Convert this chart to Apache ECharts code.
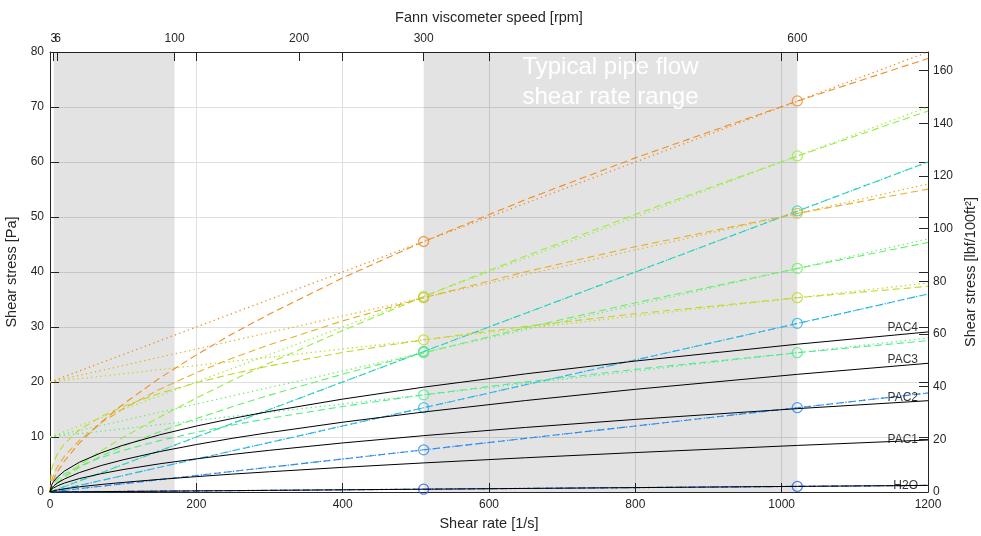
<!DOCTYPE html>
<html><head><meta charset="utf-8">
<script src="https://cdn.jsdelivr.net/npm/echarts@6/dist/echarts.min.js"></script>
<style>html,body{margin:0;padding:0;background:#fff}#c{width:981px;height:536px}</style>
</head><body><div id="c"></div>
<script>
// ---- data ----
const rates = [0, 2, 5, 10, 20, 40, 70, 100, 150, 200, 250, 300, 400, 511, 650, 800, 1022, 1200];

// Fann readings (Pa) at 300 and 600 rpm for the ten model fluids
const fluidNames = ['water', 'B0-15', 'B0-30', 'B0-50', 'B10-15', 'B10-30', 'B10-50', 'B20-15', 'B20-30', 'B20-50'];
const theta300 = [0.51, 7.67, 15.33, 25.55, 17.67, 25.33, 35.55, 27.67, 35.33, 45.55];
const theta600 = [1.02, 15.33, 30.66, 51.1, 25.33, 40.66, 61.1, 35.33, 50.66, 71.1];

// Bingham lines: stress at 0 and at 1200 1/s
const binghamAt0 = [0, 0, 0, 0, 10, 10, 10, 20, 20, 20];
const binghamAt1200 = [1.2, 18, 36, 60, 28, 46, 70, 38, 56, 80];

// Power-law curves (Pa) sampled at `rates`
const plWater  = [0, 0.002, 0.005, 0.01, 0.02, 0.04, 0.07, 0.1, 0.15, 0.2, 0.25, 0.3, 0.4, 0.51, 0.65, 0.8, 1.02, 1.2];
const plB0_15  = [0, 0.03, 0.08, 0.15, 0.3, 0.6, 1.05, 1.5, 2.25, 3, 3.75, 4.5, 6, 7.67, 9.75, 12, 15.33, 18];
const plB0_30  = [0, 0.06, 0.15, 0.3, 0.6, 1.2, 2.1, 3, 4.5, 6, 7.5, 9, 12, 15.33, 19.5, 24, 30.66, 36];
const plB0_50  = [0, 0.1, 0.25, 0.5, 1, 2, 3.5, 5, 7.5, 10, 12.5, 15, 20, 25.55, 32.5, 40, 51.1, 60];
const plB10_15 = [0, 0.99, 1.59, 2.29, 3.28, 4.70, 6.28, 7.57, 9.34, 10.85, 12.19, 13.39, 15.55, 17.67, 20.02, 22.30, 25.33, 27.53];
const plB10_30 = [0, 0.58, 1.08, 1.73, 2.77, 4.45, 6.52, 8.32, 10.97, 13.35, 15.55, 17.61, 21.43, 25.33, 29.85, 34.40, 40.66, 45.37];
const plB10_50 = [0, 0.47, 0.96, 1.64, 2.83, 4.86, 7.52, 9.94, 13.64, 17.08, 20.36, 23.45, 29.36, 35.55, 42.90, 50.46, 61.10, 69.27];
const plB20_15 = [0, 3.91, 5.41, 6.90, 8.82, 11.26, 13.72, 15.56, 17.95, 19.87, 21.50, 22.93, 25.38, 27.67, 30.12, 32.41, 35.33, 37.39];
const plB20_30 = [0, 1.98, 3.19, 4.57, 6.55, 9.40, 12.57, 15.13, 18.68, 21.69, 24.38, 26.78, 31.11, 35.33, 40.04, 44.60, 50.66, 55.07];
const plB20_50 = [0, 1.29, 2.33, 3.64, 5.68, 8.87, 12.70, 15.97, 20.73, 24.93, 28.82, 32.35, 38.92, 45.55, 53.16, 60.75, 71.10, 78.82];
const powerLaw = [plWater, plB0_15, plB0_30, plB0_50, plB10_15, plB10_30, plB10_50, plB20_15, plB20_30, plB20_50];

// Measured fluids (black curves)
const blackNames = ['H2O', 'PAC1', 'PAC2', 'PAC3', 'PAC4'];
const h2o  = [0, 0.002, 0.005, 0.01, 0.02, 0.04, 0.07, 0.1, 0.15, 0.2, 0.25, 0.3, 0.4, 0.51, 0.65, 0.8, 1.02, 1.2];
const pac1 = [0, 0.12, 0.23, 0.36, 0.58, 0.94, 1.37, 1.74, 2.30, 2.79, 3.26, 3.68, 4.48, 5.29, 6.23, 7.17, 8.47, 9.45];
const pac2 = [0, 0.45, 0.75, 1.11, 1.64, 2.43, 3.33, 4.08, 5.13, 6.03, 6.85, 7.58, 8.92, 10.25, 11.74, 13.20, 15.16, 16.60];
const pac3 = [0, 0.66, 1.11, 1.63, 2.39, 3.52, 4.81, 5.86, 7.35, 8.63, 9.78, 10.81, 12.69, 14.55, 16.63, 18.67, 21.40, 23.40];
const pac4 = [0, 1.23, 1.93, 2.72, 3.83, 5.40, 7.13, 8.51, 10.40, 11.99, 13.39, 14.65, 16.89, 19.07, 21.48, 23.81, 26.88, 29.10];
const blackCurves = [h2o, pac1, pac2, pac3, pac4];

// Axes
const rpmFactor = 1.7023;               // shear rate [1/s] per rpm
const readingRpm = [300, 600];
const rpmTicks = [3, 6, 100, 200, 300, 600];
const shadeRpm = [[3, 100], [300, 600]];
const paToLbf = 2.0885;
const leftTicks = [0, 10, 20, 30, 40, 50, 60, 70, 80];
const rightTicks = [0, 20, 40, 60, 80, 100, 120, 140, 160];
const bottomTicks = [0, 200, 400, 600, 800, 1000, 1200];
const shadeText = 'Typical pipe flow\nshear rate range';

// ---- styling ----
const colors = ['#2461e0', '#2a8cf0', '#28b4e6', '#2ad2be', '#50eb8a', '#64f064', '#98ec3c', '#c6d42a', '#e6b028', '#f08c24'];
const blackLabelDy = [0, 0, -3, -4, -4];
const axisColor = '#262626';
const font = 'Liberation Sans, Arial, Helvetica, sans-serif';

const series = [];
series.push({
  type: 'line', data: [[0, 0], [1200, 0]], symbol: 'none', silent: true, z: 1,
  lineStyle: { width: 0, opacity: 0 },
  markArea: {
    silent: true,
    itemStyle: { color: 'rgba(0,0,0,0.11)' },
    data: [
      [{ xAxis: shadeRpm[0][0] * rpmFactor, label: { show: false } }, { xAxis: shadeRpm[0][1] * rpmFactor }],
      [{ xAxis: shadeRpm[1][0] * rpmFactor, name: shadeText,
         label: { show: true, position: 'insideTop', distance: 0, color: '#ffffff', fontSize: 24, lineHeight: 30, fontFamily: font } },
       { xAxis: shadeRpm[1][1] * rpmFactor }]
    ]
  }
});

for (let i = 0; i < fluidNames.length; i++) {
  const c = colors[i];
  series.push({
    type: 'line', name: fluidNames[i] + ' PL', z: 3, silent: true,
    data: rates.map((r, k) => [r, powerLaw[i][k]]),
    symbol: 'none',
    lineStyle: { color: c, width: 1.1, type: [7, 4] }
  });
  series.push({
    type: 'line', name: fluidNames[i] + ' BP', z: 3, silent: true,
    data: [[0, binghamAt0[i]], [1200, binghamAt1200[i]]],
    symbol: 'none',
    lineStyle: { color: c, width: 1.3, type: [1.3, 3.3] }
  });
  series.push({
    type: 'scatter', name: fluidNames[i] + ' Fann', z: 4, silent: true,
    data: [[readingRpm[0] * rpmFactor, theta300[i]], [readingRpm[1] * rpmFactor, theta600[i]]],
    symbol: 'circle', symbolSize: 10,
    itemStyle: { color: 'rgba(0,0,0,0)', borderColor: c, borderWidth: 1.3 }
  });
}

for (let j = 0; j < blackNames.length; j++) {
  const d = blackCurves[j];
  series.push({
    type: 'line', name: blackNames[j], z: 5, silent: true,
    data: rates.map((r, k) => [r, d[k]]),
    symbol: 'none',
    lineStyle: { color: '#000000', width: 1 }
  });
  series.push({
    type: 'scatter', z: 6, silent: true, clip: false,
    data: [[rates[rates.length - 1], d[d.length - 1]]],
    symbolSize: 0,
    label: { show: true, position: 'left', distance: 10, formatter: blackNames[j],
             color: '#000000', fontSize: 12, fontFamily: font, offset: [0, blackLabelDy[j]] }
  });
}

const tickStyle = { show: true, inside: true, length: 9, lineStyle: { color: axisColor, width: 1 } };
const lineStyleAx = { show: true, onZero: false, lineStyle: { color: axisColor, width: 1 } };
const gridLine = { show: true, lineStyle: { color: '#dfdfdf', width: 1 } };
const labelStyle = { color: axisColor, fontSize: 12, fontFamily: font, hideOverlap: false };
const nameStyle = { color: axisColor, fontSize: 14.5, fontFamily: font };

const option = {
  animation: false,
  textStyle: { fontFamily: font },
  grid: { left: 50, right: 53, top: 52, bottom: 44, containLabel: false, outerBoundsMode: 'none' },
  xAxis: [
    { type: 'value', position: 'bottom', min: 0, max: 1200, interval: 200,
      axisLine: lineStyleAx, axisTick: tickStyle, splitLine: gridLine,
      axisLabel: Object.assign({ margin: 7, formatter: v => String(v) }, labelStyle),
      name: 'Shear rate [1/s]', nameLocation: 'middle', nameGap: 24, nameTextStyle: nameStyle },
    { type: 'value', position: 'top', min: 0, max: 1200,
      axisLine: lineStyleAx,
      axisTick: Object.assign({ customValues: bottomTicks.concat(rpmTicks.map(r => r * rpmFactor)) }, tickStyle),
      splitLine: { show: false },
      axisLabel: Object.assign({ margin: 7, customValues: rpmTicks.slice(1).map(r => r * rpmFactor),
        formatter: v => String(Math.round(v / rpmFactor)) }, labelStyle),
      name: 'Fann viscometer speed [rpm]', nameLocation: 'middle', nameGap: 27, nameTextStyle: nameStyle },
    { type: 'value', position: 'top', min: 0, max: 1200,
      axisLine: { show: false, onZero: false }, axisTick: { show: false }, splitLine: { show: false },
      axisLabel: Object.assign({ margin: 7, customValues: rpmTicks.slice(0, 1).map(r => r * rpmFactor),
        formatter: v => String(Math.round(v / rpmFactor)) }, labelStyle) }
  ],
  yAxis: [
    { type: 'value', position: 'left', min: 0, max: 80, interval: 10,
      axisLine: lineStyleAx, axisTick: tickStyle, splitLine: gridLine,
      axisLabel: Object.assign({ margin: 6 }, labelStyle),
      name: 'Shear stress [Pa]', nameLocation: 'middle', nameGap: 26, nameRotate: 90, nameTextStyle: nameStyle },
    { type: 'value', position: 'right', min: 0, max: 80 * paToLbf,
      axisLine: lineStyleAx,
      axisTick: Object.assign({ customValues: rightTicks.concat(leftTicks.map(v => v * paToLbf)) }, tickStyle),
      splitLine: { show: false },
      axisLabel: Object.assign({ margin: 5, customValues: rightTicks }, labelStyle),
      name: 'Shear stress [lbf/100ft²]', nameLocation: 'middle', nameGap: 35, nameRotate: 90, nameTextStyle: nameStyle }
  ],
  series: series
};

const chart = echarts.init(document.getElementById('c'), null, { renderer: 'canvas' });
chart.setOption(option);
</script>
</body></html>
